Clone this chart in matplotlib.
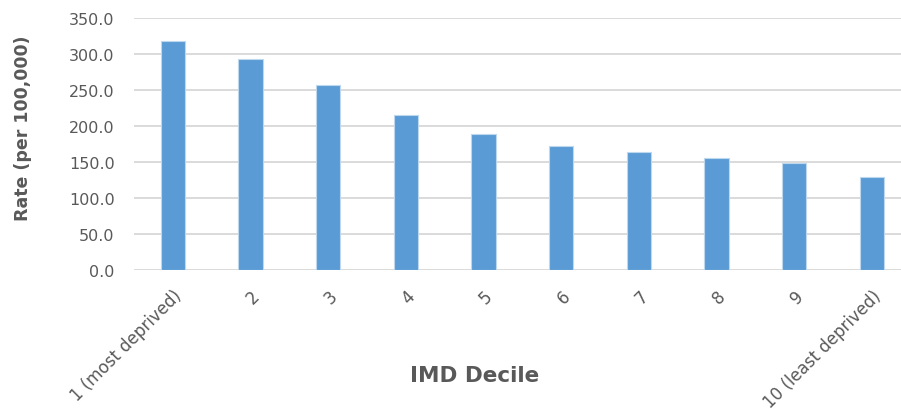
import numpy as np
import matplotlib.pyplot as plt

# IMD decile rates
deciles = ['1 (most deprived)', '2', '3', '4', '5', '6', '7', '8', '9', '10 (least deprived)']
rates = [318.0, 293.5, 257.5, 215.0, 188.5, 172.5, 164.5, 156.0, 148.0, 128.5]
yticks = np.arange(0, 351, 50)

grey = '#595959'
fig = plt.figure(figsize=(9.01, 4.10), dpi=100)
ax = fig.add_axes([134 / 901, 1 - 270.7 / 410, 1 - 134 / 901, (270.7 - 19.3) / 410])

x = np.arange(len(deciles))
ax.bar(x, rates, width=0.31, color='#5b9bd5', edgecolor='#bdd7ee', linewidth=0.8, zorder=3)

ax.set_ylim(0, 350)
ax.set_xlim(-0.5, 9.376)
ax.set_yticks(yticks)
ax.set_yticklabels([f'{v:.1f}' for v in yticks], color=grey, fontsize=11.5)
ax.set_xticks(x)
ax.set_xticklabels(deciles, rotation=45, ha='right', rotation_mode='anchor',
                   color=grey, fontsize=12)
ax.tick_params(axis='both', length=0)
ax.tick_params(axis='y', pad=14)
ax.tick_params(axis='x', pad=12)

ax.grid(axis='y', color='#d4d4d4', linewidth=1.2, zorder=0)
for s in ax.spines.values():
    s.set_visible(False)

ax.set_ylabel('Rate (per 100,000)', fontsize=12.5, fontweight='bold', color=grey)
ax.yaxis.set_label_coords(-0.133, 0.565)
fig.text(475 / 901, 1 - 376 / 410, 'IMD Decile', fontsize=15.5, fontweight='bold',
         color=grey, ha='center', va='center')

fig.savefig('out.png', dpi=100)
